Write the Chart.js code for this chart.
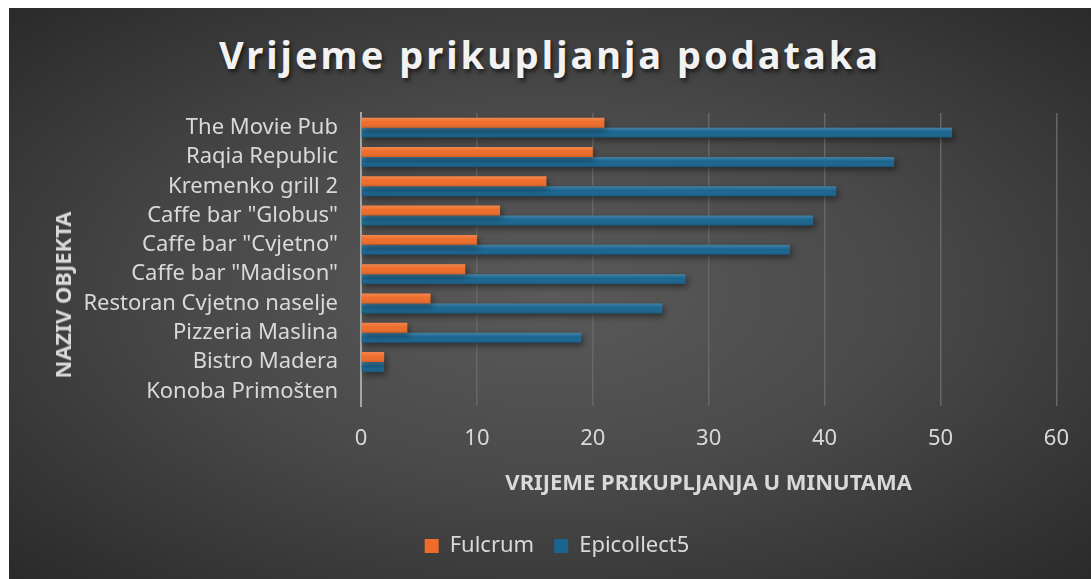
<!DOCTYPE html>
<html lang="hr">
<head>
    <meta charset="UTF-8">
    <title>Vrijeme prikupljanja podataka</title>
    <style>
        html, body {
            margin: 0;
            padding: 0;
            background: #fff;
        }
        #frame {
            position: absolute;
            left: 9px;
            top: 8px;
            width: 1082px;
            height: 571px;
            background: radial-gradient(ellipse at 50% 50%, #5a5a5a 0%, #4a4a4a 45%, #2a2a2a 100%);
            overflow: hidden;
        }
        h1 {
            position: absolute;
            left: 0;
            right: 0;
            top: 20px;
            margin: 0;
            text-align: center;
            font-family: "Noto Sans", sans-serif;
            font-weight: bold;
            font-size: 38px;
            letter-spacing: 3px;
            color: #f2f2f2;
            text-shadow: 2px 3px 4px rgba(0, 0, 0, 0.6);
        }
        .y-title {
            position: absolute;
            left: 53px;
            top: 287px;
            transform: translate(-50%, -50%) rotate(-90deg);
            white-space: nowrap;
            font-family: "Noto Sans", sans-serif;
            font-weight: bold;
            font-size: 22px;
            line-height: 1;
            color: #d9d9d9;
            z-index: 2;
        }
        #chart-box {
            position: absolute;
            left: 0;
            top: 0;
            width: 1082px;
            height: 571px;
        }
    </style>
    <script src="https://cdn.jsdelivr.net/npm/chart.js"></script>
</head>
<body>
    <div id="frame">
        <h1>Vrijeme prikupljanja podataka</h1>
        <div class="y-title">NAZIV OBJEKTA</div>
        <div id="chart-box">
            <canvas id="chart"></canvas>
        </div>
    </div>

    <script>
        const places = [
            'The Movie Pub',
            'Raqia Republic',
            'Kremenko grill 2',
            'Caffe bar "Globus"',
            'Caffe bar "Cvjetno"',
            'Caffe bar "Madison"',
            'Restoran Cvjetno naselje',
            'Pizzeria Maslina',
            'Bistro Madera',
            'Konoba Primošten'
        ];
        const fulcrum = [21, 20, 16, 12, 10, 9, 6, 4, 2, 0];
        const epicollect = [51, 46, 41, 39, 37, 28, 26, 19, 2, 0];
        const xTicks = [0, 10, 20, 30, 40, 50, 60];

        const textColor = '#d9d9d9';
        const font = 'Noto Sans';

        // soft drop shadow under the bars + light/dark sheen on each bar
        const barStyle = {
            id: 'barStyle',
            beforeDatasetsDraw(chart) {
                const ctx = chart.ctx;
                ctx.save();
                ctx.shadowColor = 'rgba(0, 0, 0, 0.45)';
                ctx.shadowBlur = 6;
                ctx.shadowOffsetX = 2;
                ctx.shadowOffsetY = 3;
            },
            afterDatasetsDraw(chart) {
                const ctx = chart.ctx;
                ctx.restore();
                chart.data.datasets.forEach((ds, i) => {
                    chart.getDatasetMeta(i).data.forEach(bar => {
                        const { x, y, base, height } = bar.getProps(['x', 'y', 'base', 'height'], true);
                        if (x === base) return;
                        const top = y - height / 2;
                        const g = ctx.createLinearGradient(0, top, 0, top + height);
                        g.addColorStop(0, 'rgba(255, 255, 255, 0.18)');
                        g.addColorStop(0.45, 'rgba(255, 255, 255, 0)');
                        g.addColorStop(1, 'rgba(0, 0, 0, 0.12)');
                        ctx.fillStyle = g;
                        ctx.fillRect(Math.min(x, base), top, Math.abs(x - base), height);
                    });
                });
            }
        };

        const ctx = document.getElementById('chart').getContext('2d');
        new Chart(ctx, {
            type: 'bar',
            data: {
                labels: places,
                datasets: [{
                    label: 'Fulcrum',
                    data: fulcrum,
                    backgroundColor: '#ef6c2a',
                    categoryPercentage: 0.68,
                    barPercentage: 1.0
                }, {
                    label: 'Epicollect5',
                    data: epicollect,
                    backgroundColor: '#1a6590',
                    categoryPercentage: 0.68,
                    barPercentage: 1.0
                }]
            },
            options: {
                indexAxis: 'y',
                responsive: true,
                maintainAspectRatio: false,
                animation: false,
                layout: {
                    padding: { top: 105, right: 26, bottom: 12, left: 40 }
                },
                scales: {
                    x: {
                        min: 0,
                        max: 60,
                        afterBuildTicks: axis => {
                            axis.ticks = xTicks.map(v => ({ value: v }));
                        },
                        grid: {
                            color: '#676767',
                            lineWidth: 1.5,
                            drawTicks: false
                        },
                        border: { display: false },
                        ticks: {
                            color: textColor,
                            padding: 22,
                            font: { family: font, size: 22, lineHeight: 1 }
                        },
                        title: {
                            display: true,
                            text: 'VRIJEME PRIKUPLJANJA U MINUTAMA',
                            color: textColor,
                            padding: { top: 1, bottom: 20 },
                            font: { family: font, size: 22, weight: 'bold', lineHeight: 1 }
                        }
                    },
                    y: {
                        // fixed width: the rotated axis title sits in the HTML overlay
                        afterFit: axis => {
                            axis.width = 312;
                        },
                        grid: { display: false, drawTicks: false },
                        border: { color: '#a6a6a6', width: 2 },
                        ticks: {
                            autoSkip: false,
                            color: textColor,
                            padding: 23,
                            font: { family: font, size: 22 }
                        }
                    }
                },
                plugins: {
                    legend: {
                        position: 'bottom',
                        labels: {
                            color: textColor,
                            boxWidth: 14,
                            boxHeight: 14,
                            padding: 20,
                            font: { family: font, size: 22 }
                        }
                    },
                    tooltip: { enabled: false }
                }
            },
            plugins: [barStyle]
        });
    </script>
</body>
</html>
